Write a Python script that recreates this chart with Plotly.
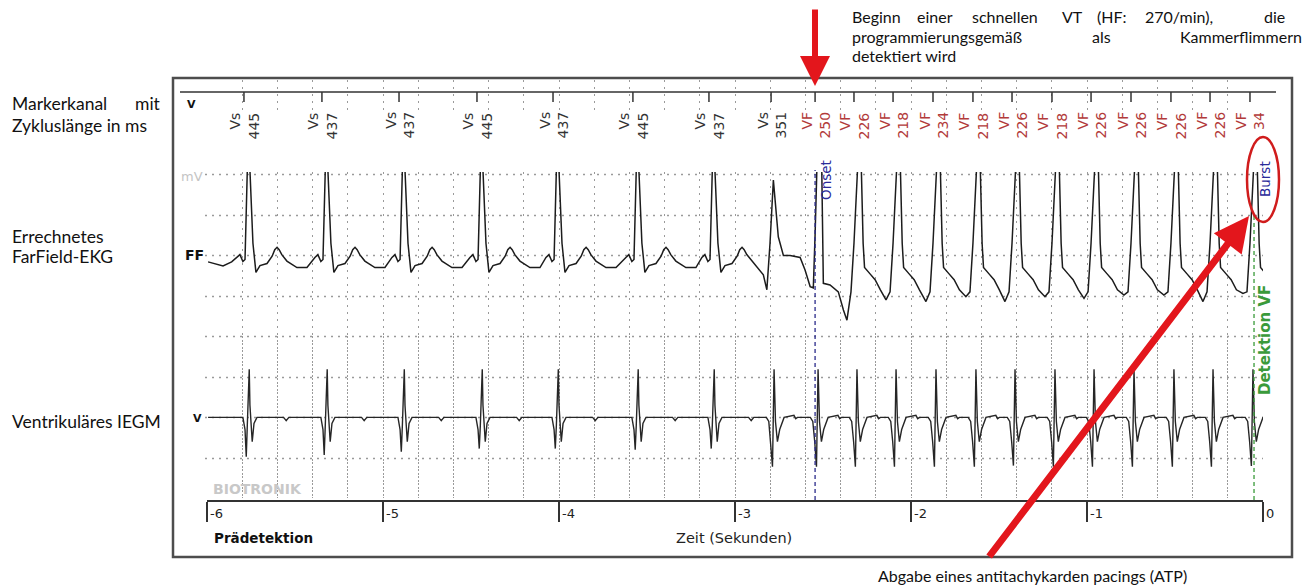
import plotly.graph_objects as go

W, H = 1303, 587

# ---------------- data ----------------
# marker channel: time of each ventricular event (s, relative to detection) and labels
marker_t = [-5.790, -5.347, -4.909, -4.466, -4.034, -3.580, -3.148, -2.795, -2.545, -2.324,
            -2.102, -1.875, -1.648, -1.426, -1.199, -0.977, -0.750, -0.523, -0.301, -0.074]
marker_type = ["Vs", "Vs", "Vs", "Vs", "Vs", "Vs", "Vs", "Vs", "VF", "VF",
               "VF", "VF", "VF", "VF", "VF", "VF", "VF", "VF", "VF", "VF"]
marker_cl = ["445", "437", "437", "445", "437", "445", "437", "351", "250", "226",
             "218", "234", "218", "226", "218", "226", "226", "226", "226", "34"]

# far-field ECG morphology of each beat
ff_kind = ["sinus", "sinus", "sinus", "sinus", "sinus", "sinus", "sinus", "trans", "onset", "vt",
           "vt", "vt", "vt", "vt", "vt", "vt", "vt", "vt", "vt", "vt"]
# trough depth preceding each VT complex (grid units)
ff_vt_trough = [-1.60, -1.10, -1.14, -1.02, -1.14, -1.02, -1.06, -0.98, -0.98, -1.14, -0.94]

ff_lead_t = [-5.994, -5.945, -5.909, -5.860]
ff_lead_v = [-0.16, -0.21, -0.26, -0.16]

# beat templates: offset from marker (ms) and amplitude (grid units)
ff_sinus_ms = [-40, -23, -6, 6, 19, 34, 51, 68, 91, 131, 160, 175, 188, 200, 215, 244, 301, 358]
ff_sinus_v = [-0.05, 0.02, -0.15, -0.10, 2.10, 2.10, 0.30, -0.42, -0.25, -0.20, -0.02, 0.14, 0.20, 0.14,
              0.02, -0.14, -0.30, -0.30]
ff_trans_ms = [-100, -44, -24, -6, 13, 41, 70, 108, 165, 193, 222]
ff_trans_v = [-0.20, -0.48, -0.85, 0.30, 1.86, 0.46, 0.00, 0.00, -0.05, -0.36, -0.77]
ff_onset_ms = [-10, 0, 10, 38, 47, 85, 132, 161]
ff_onset_v = [-0.80, 0.50, 2.10, 2.10, -0.69, -0.73, -0.90, -1.35]
ff_vt_ms = [-40, -17, 0, 20, 42, 52, 60, 90, 120, 150]
ff_vt_v = [-1.10, -0.90, 0.30, 2.10, 2.10, 0.30, -0.30, -0.45, -0.60, -0.85]

# ventricular IEGM
iegm_kind = ["sinus", "sinus", "sinus", "sinus", "sinus", "sinus", "sinus", "vt", "vt", "vt",
             "vt", "vt", "vt", "vt", "vt", "vt", "vt", "vt", "vt", "vt"]
iegm_down = [-0.97, -0.93, -0.85, -0.77, -0.77, -0.80, -0.77, -1.22, -1.22, -1.22,
             -1.22, -1.22, -1.22, -1.19, -1.22, -1.22, -1.22, -1.22, -1.22, -1.20]
iegm_lead_t = [-5.994]
iegm_lead_v = [0.0]
iegm_sinus_ms = [-6, 6, 13, 19, 25, 30, 34, 43, 47, 57, 74, 225, 240, 255]
iegm_sinus_v = [0.0, -0.30, None, -0.20, 0.40, 1.19, 0.30, -0.35, -0.60, -0.15, 0.0, 0.0, -0.08, 0.0]
iegm_vt_ms = [-27, -13, -2, 8, 17, 25, 36, 49, 74, 130, 140, 150]
iegm_vt_v = [0.0, -0.10, -0.60, None, 1.19, -0.10, -0.60, -0.30, 0.0, 0.05, -0.03, 0.0]

time_ticks = [-6, -5, -4, -3, -2, -1, 0]
onset_t = -2.545
detect_t = -0.051

# ---------------- helpers ----------------
def PX(x):
    return x / W


def PY(y):
    return 1 - y / H


def build(lead_t, lead_v, segments):
    xs, ys = list(lead_t), list(lead_v)
    for i, seg in enumerate(segments):
        limit = segments[i + 1][0][0] if i + 1 < len(segments) else 99
        for tt, v in seg:
            if tt < limit and tt > xs[-1]:
                xs.append(tt)
                ys.append(v)
    return xs, ys


ff_templates = {"sinus": (ff_sinus_ms, ff_sinus_v), "trans": (ff_trans_ms, ff_trans_v),
                "onset": (ff_onset_ms, ff_onset_v), "vt": (ff_vt_ms, ff_vt_v)}
ff_segs = []
j = 0
for t, k in zip(marker_t, ff_kind):
    ms, vv = ff_templates[k]
    vv = list(vv)
    if k == "vt":
        vv[0] = ff_vt_trough[j]
        j += 1
    ff_segs.append([(t + m / 1000.0, v) for m, v in zip(ms, vv)])
ff_x, ff_y = build(ff_lead_t, ff_lead_v, ff_segs)

ie_templates = {"sinus": (iegm_sinus_ms, iegm_sinus_v), "vt": (iegm_vt_ms, iegm_vt_v)}
ie_segs = []
for t, k, d in zip(marker_t, iegm_kind, iegm_down):
    ms, vv = ie_templates[k]
    vv = [d if v is None else v for v in vv]
    ie_segs.append([(t + m / 1000.0, v) for m, v in zip(ms, vv)])
ie_x, ie_y = build(iegm_lead_t, iegm_lead_v, ie_segs)

mk_x, mk_y = [], []
for t in marker_t:
    mk_x += [t, t, None]
    mk_y += [0, -1, None]

# ---------------- figure ----------------
GRID = "#9a9a9a"
DOT = "2px,5px"
ROW = 40.5
fig = go.Figure()
fig.add_trace(go.Scatter(x=[-6], y=[1], xaxis="x", yaxis="y", mode="markers",
                         marker=dict(opacity=0), hoverinfo="skip", showlegend=False))
fig.add_trace(go.Scatter(x=ff_x, y=ff_y, xaxis="x", yaxis="y2", mode="lines",
                         line=dict(color="#1c1c1c", width=1.5), showlegend=False))
fig.add_trace(go.Scatter(x=ie_x, y=ie_y, xaxis="x", yaxis="y3", mode="lines",
                         line=dict(color="#262626", width=1.4), showlegend=False))
fig.add_trace(go.Scatter(x=mk_x, y=mk_y, xaxis="x", yaxis="y4", mode="lines",
                         line=dict(color="#333333", width=1.5), showlegend=False))

grid_px = [458.5, 417.5, 377.5, 336.5, 296.5, 255.5, 215.5, 174.5]

fig.update_layout(
    width=W, height=H, margin=dict(l=0, r=0, t=0, b=0),
    paper_bgcolor="white", plot_bgcolor="rgba(0,0,0,0)", showlegend=False,
    xaxis=dict(domain=[PX(207), PX(1263)], range=[-6, 0], anchor="y",
               tickmode="array", tickvals=time_ticks, ticks="outside", ticklen=20,
               tickwidth=1.5, tickcolor="#333", showticklabels=False,
               showline=True, linecolor="#333", linewidth=1.5,
               showgrid=True, gridcolor=GRID, griddash=DOT, gridwidth=1.3, zeroline=False,
               minor=dict(tickmode="linear", tick0=-6, dtick=0.2, showgrid=True,
                          gridcolor=GRID, griddash=DOT, gridwidth=1.3, ticks="")),
    yaxis=dict(domain=[PY(500), PY(172)], range=[0, 328 / ROW], anchor="x",
               showticklabels=False, ticks="", showgrid=False, zeroline=False, showline=False),
    yaxis2=dict(domain=[PY(336.4), PY(172)], range=[(255.4 - 336.4) / ROW, (255.4 - 172) / ROW],
                anchor="x", visible=False),
    yaxis3=dict(domain=[PY(498), PY(336.4)], range=[(417.4 - 498) / ROW, (417.4 - 336.4) / ROW],
                anchor="x", visible=False),
    yaxis4=dict(domain=[PY(110), PY(80)], range=[-1.8, 1.2], anchor="x", visible=False),
)

shapes = []
for p in grid_px:
    shapes.append(dict(type="line", xref="paper", yref="paper", x0=PX(205), x1=PX(1263), y0=PY(p), y1=PY(p),
                       layer="below", line=dict(color=GRID, width=1.3, dash=DOT)))
shapes += [
    dict(type="rect", xref="paper", yref="paper", x0=PX(173), x1=PX(1292), y0=PY(557), y1=PY(78),
         line=dict(color="#4d4d4d", width=2.5)),
    dict(type="line", xref="paper", yref="paper", x0=PX(180), x1=PX(1276), y0=PY(92), y1=PY(92),
         line=dict(color="#333", width=1.5)),
    dict(type="line", xref="x", yref="paper", x0=onset_t, x1=onset_t, y0=PY(500), y1=PY(170),
         line=dict(color="#2a2a8a", width=1.3, dash="4px,3px")),
    dict(type="line", xref="x", yref="paper", x0=detect_t, x1=detect_t, y0=PY(500), y1=PY(213),
         line=dict(color="#3a9a3a", width=1.3, dash="4px,3px")),
    dict(type="circle", xref="paper", yref="paper", x0=PX(1247), x1=PX(1279), y0=PY(222), y1=PY(137),
         line=dict(color="#d01c1c", width=2.5)),
]
fig.update_layout(shapes=shapes)

DEV = "DejaVu Sans"
TXT = "Lato"
ann = []
# marker labels
for t, typ, cl in zip(marker_t, marker_type, marker_cl):
    ann.append(dict(xref="x", yref="paper", x=t, y=PY(110), xanchor="center", yanchor="top",
                    text=f"{typ}<br>{cl}", textangle=-90, align="right", showarrow=False,
                    font=dict(family=DEV, size=14, color="#333" if typ == "Vs" else "#b23a3a")))
# time tick labels
for tv in time_ticks:
    ann.append(dict(xref="x", yref="paper", x=tv, y=PY(513), xanchor="left", yanchor="middle",
                    xshift=1, text=str(tv), showarrow=False, font=dict(family=DEV, size=13, color="#222")))


def pa(text, x, y, xa="left", size=16, family=TXT, color="#111", bold=False, angle=0, ya="middle"):
    if bold:
        text = f"<b>{text}</b>"
    ann.append(dict(xref="paper", yref="paper", x=PX(x), y=PY(y), xanchor=xa, yanchor=ya, text=text,
                    showarrow=False, textangle=angle, font=dict(family=family, size=size, color=color)))


# left descriptions
LS = 17.5
pa("Markerkanal", 10, 103, size=LS)
pa("mit", 163, 103, xa="right", size=LS)
pa("Zykluslänge in ms", 10, 126, size=LS)
pa("Errechnetes", 10, 236, size=LS)
pa("FarField-EKG", 10, 256, size=LS)
pa("Ventrikuläres IEGM", 10, 421, size=LS)
# top right description (justified)
for w, x in [("Beginn", 850), ("einer", 915), ("schnellen", 970), ("VT", 1060), ("(HF:", 1095),
             ("270/min),", 1143), ("die", 1262)]:
    pa(w, x, 16)
for w, x in [("programmierungsgemäß", 850), ("als", 1090), ("Kammerflimmern", 1178)]:
    pa(w, x, 36)
pa("detektiert wird", 850, 56)
pa("Abgabe eines antitachykarden pacings (ATP)", 876, 575)

# device texts
pa("mV", 179, 176, size=13, family=DEV, color="#c4c4c4")
pa("FF", 183, 255, size=14, family=DEV, color="#111", bold=True)
pa("V", 185, 104, size=11, family=DEV, color="#111", bold=True)
pa("V", 191, 418, size=11, family=DEV, color="#111", bold=True)
pa("BIOTRONIK", 211, 489, size=14, family=DEV, color="#c8c8c8", bold=True)
pa("Prädetektion", 212, 538, size=13.5, family=DEV, color="#111", bold=True)
pa("Zeit (Sekunden)", 734, 538, xa="center", size=14.5, family=DEV, color="#222")
pa("Onset", 826, 180, xa="center", size=13.5, family=DEV, color="#2a2a9a", angle=-90)
pa("Burst", 1265, 179, xa="center", size=13.5, family=DEV, color="#2a2a9a", angle=-90)
pa("Detektion VF", 1265, 340, xa="center", size=15, family=DEV, color="#3a9a3a", bold=True, angle=-90)

# red arrows
ann.append(dict(xref="paper", yref="paper", x=PX(815), y=PY(86), ax=0, ay=-78, text="",
                showarrow=True, arrowhead=2, arrowsize=1, arrowwidth=6, arrowcolor="#e3161c"))
ann.append(dict(xref="paper", yref="paper", x=PX(1249), y=PY(216), ax=-261, ay=342, text="",
                showarrow=True, arrowhead=2, arrowsize=1, arrowwidth=7, arrowcolor="#e3161c"))

fig.update_layout(annotations=ann)

fig.write_html("out.html", config={"displayModeBar": False},
               post_script="document.body.style.margin='0';document.body.style.overflow='hidden';")
